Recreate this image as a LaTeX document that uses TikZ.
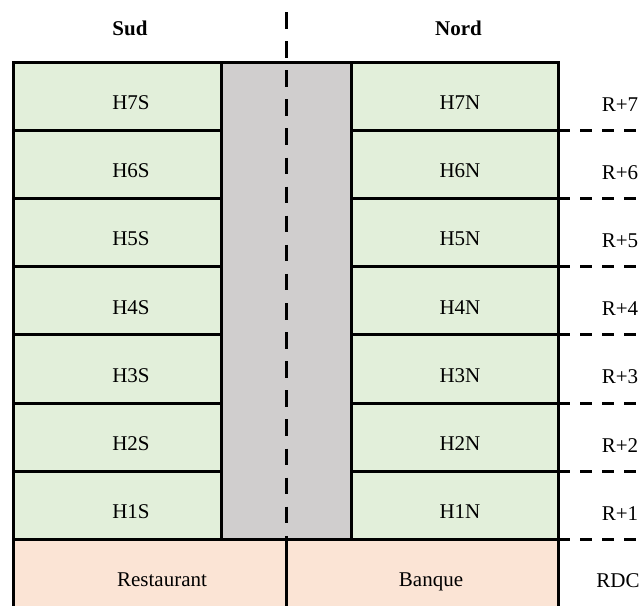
\documentclass[tikz,border=0pt]{standalone}
\usepackage{fontspec}
\setmainfont{Liberation Serif}
\definecolor{roomgreen}{HTML}{E2EFDA}
\definecolor{coregray}{HTML}{D0CECE}
\definecolor{shoppeach}{HTML}{FBE4D5}
\begin{document}
\begin{tikzpicture}[x=1pt,y=-1pt,
  lbl/.style={anchor=base, inner sep=0pt, font=\fontsize{21}{25}\selectfont},
  head/.style={anchor=base, inner sep=0pt, font=\fontsize{21}{25}\selectfont\bfseries},
  wall/.style={line width=3pt},
  axisline/.style={line width=3.8pt, dash pattern=on 16.5pt off 12.6pt},
  levelline/.style={line width=3pt, dash pattern=on 11.7pt off 10.3pt}]
\clip (0,0) rectangle (641,606);
% fills
\fill[roomgreen] (13.5,62) rectangle (221,539.4);
\fill[roomgreen] (351.5,62) rectangle (558,539.4);
\fill[coregray] (221,62) rectangle (351.5,539.4);
\fill[shoppeach] (13.5,539.4) rectangle (558,630);
% walls
\draw[wall] (13.5,630) -- (13.5,62) -- (558,62) -- (558,630);
\draw[wall] (221,62) -- (221,539.4);
\draw[wall] (351.5,62) -- (351.5,539.4);
\foreach \r in {1,...,6} {
  \pgfmathsetmacro\yy{62+68.2*\r}
  \draw[wall] (13.5,\yy) -- (221,\yy);
  \draw[wall] (351.5,\yy) -- (558,\yy);
}
\draw[wall] (13.5,539.4) -- (558,539.4);
\draw[wall] (286.5,539.4) -- (286.5,630);
% central axis
\coordinate (axtop) at (286.5,12);
\coordinate (axbot) at (286.5,539.4);
\draw[axisline] (axtop) -- (axbot);
% level lines
\foreach \r in {1,...,7} {
  \pgfmathsetmacro\yy{62+68.2*\r}
  \coordinate (lvA\r) at (558,\yy);
  \coordinate (lvB\r) at (645,\yy);
  \draw[levelline] (lvA\r) -- (lvB\r);
}
% headings
\node[head] (sud) at (130,35) {Sud};
\node[head] (nord) at (458.5,35) {Nord};
% rooms
\foreach \k in {1,...,7} {
  \pgfmathsetmacro\yb{62+68.2*(7-\k)+47.5}
  \node[lbl] (h\k s) at (131,\yb) {H\k S};
  \node[lbl] (h\k n) at (460,\yb) {H\k N};
  \node[lbl] (r\k) at (620,\yb+1.5) {R+\k};
}
\node[lbl] (resto) at (162,586) {Restaurant};
\node[lbl] (banque) at (431,586) {Banque};
\node[lbl] (rdc) at (618,587.5) {RDC};
\end{tikzpicture}
\end{document}
